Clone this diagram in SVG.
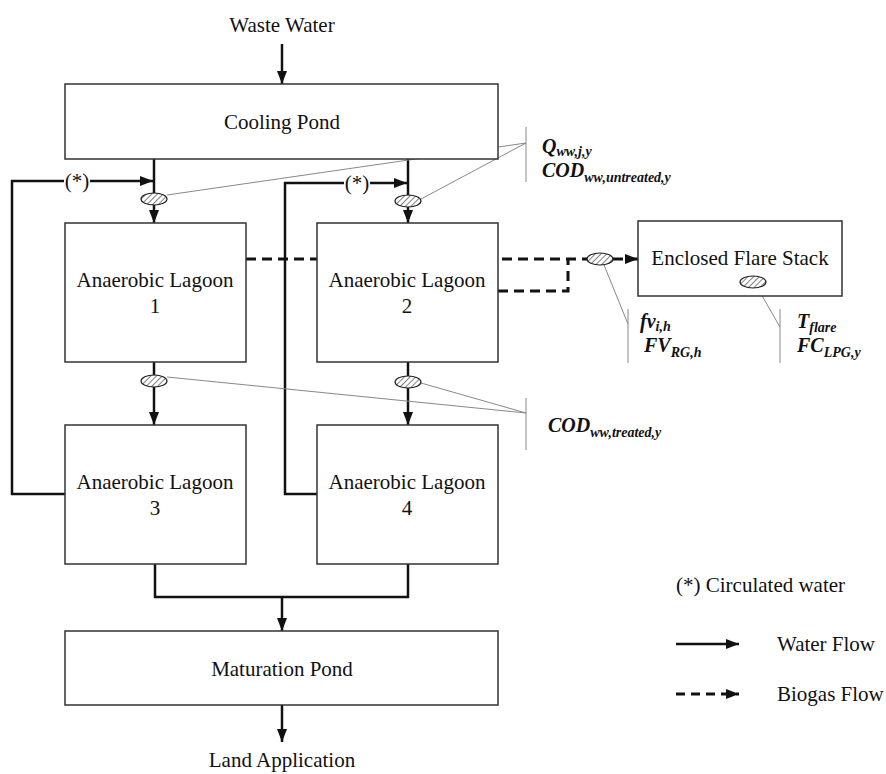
<svg xmlns="http://www.w3.org/2000/svg" width="886" height="774" viewBox="0 0 886 774" font-family="'Liberation Serif', 'Times New Roman', serif">
<defs>
<style>
text{font-family:'Liberation Serif','Times New Roman',serif}
.box{fill:#fff;stroke:#333;stroke-width:1.5}
.lbl{font-size:21px;fill:#111;text-anchor:middle}
.lft{text-anchor:start}
.var{font-size:20px;font-weight:bold;font-style:italic;fill:#111}
.sub{font-size:14px}
.flow{fill:none;stroke:#111;stroke-width:2.5}
.gas{fill:none;stroke:#111;stroke-width:3;stroke-dasharray:10 6}
.lead{fill:none;stroke:#888;stroke-width:1}
.meter{fill:url(#hatch);stroke:#222;stroke-width:1.2}
</style>
<pattern id="hatch" patternUnits="userSpaceOnUse" width="4" height="4" patternTransform="rotate(45)">
<rect width="4" height="4" fill="#fff"/>
<line x1="0" y1="0" x2="0" y2="4" stroke="#555" stroke-width="1.5"/>
</pattern>
<marker id="ah" markerUnits="userSpaceOnUse" viewBox="0 0 13 10" markerWidth="13" markerHeight="10" refX="13" refY="5" orient="auto">
<path d="M0,0 L13,5 L0,10 z" fill="#111"/>
</marker>
</defs>
<rect width="886" height="774" fill="#fff"/>

<g id="connectors">
<path class="flow" d="M282,44 V84" marker-end="url(#ah)"/>
<path class="flow" d="M154,159 V223" marker-end="url(#ah)"/>
<path class="flow" d="M408,159 V223" marker-end="url(#ah)"/>
<path class="flow" d="M65,494 H12 V181 H64"/>
<path class="flow" d="M90,181 H153" marker-end="url(#ah)"/>
<path class="flow" d="M317,494 H285 V183 H344"/>
<path class="flow" d="M370,183 H407" marker-end="url(#ah)"/>
<path class="flow" d="M154,362 V425" marker-end="url(#ah)"/>
<path class="flow" d="M408,362 V425" marker-end="url(#ah)"/>
<path class="flow" d="M155,564 V597 H408 V564"/>
<path class="flow" d="M282,597 V631" marker-end="url(#ah)"/>
<path class="flow" d="M282,705 V742" marker-end="url(#ah)"/>
<path class="gas" d="M246,259 H588"/>
<path class="gas" d="M498,291 H568 V259"/>
<path class="gas" d="M613,259 H638" marker-end="url(#ah)"/>
<path class="lead" d="M167,195 L526,143 M421,199 L526,143 M526,127 V182"/>
<path class="lead" d="M167,377 L526,413 M421,383 L526,413 M526,398 V450"/>
<path class="lead" d="M604,265 L628,324 M628,309 V363"/>
<path class="lead" d="M757,287 L780,327 M780,309 V363"/>
<text class="lbl" x="77" y="188">(*)</text>
<text class="lbl" x="357" y="190">(*)</text>
</g>

<g id="waste-water"><text class="lbl" x="282" y="32">Waste Water</text></g>
<g id="cooling-pond"><rect class="box" x="65" y="84" width="433" height="75"/><text class="lbl" x="282" y="129">Cooling Pond</text></g>
<g id="lagoon-1"><rect class="box" x="65" y="223" width="181" height="139"/><text class="lbl" x="155" y="287">Anaerobic Lagoon</text><text class="lbl" x="155" y="313">1</text></g>
<g id="lagoon-2"><rect class="box" x="317" y="223" width="181" height="139"/><text class="lbl" x="407" y="287">Anaerobic Lagoon</text><text class="lbl" x="407" y="313">2</text></g>
<g id="lagoon-3"><rect class="box" x="65" y="425" width="181" height="139"/><text class="lbl" x="155" y="489">Anaerobic Lagoon</text><text class="lbl" x="155" y="515">3</text></g>
<g id="lagoon-4"><rect class="box" x="317" y="425" width="181" height="139"/><text class="lbl" x="407" y="489">Anaerobic Lagoon</text><text class="lbl" x="407" y="515">4</text></g>
<g id="maturation-pond"><rect class="box" x="65" y="631" width="433" height="74"/><text class="lbl" x="282" y="676">Maturation Pond</text></g>
<g id="land-application"><text class="lbl" x="282" y="767">Land Application</text></g>
<g id="flare-stack"><rect class="box" x="638" y="221" width="204" height="75"/><text class="lbl" x="740" y="265">Enclosed Flare Stack</text></g>

<g id="meters">
<ellipse class="meter" cx="154" cy="199" rx="13" ry="6"/>
<ellipse class="meter" cx="408" cy="201" rx="13" ry="6"/>
<ellipse class="meter" cx="154" cy="381" rx="13" ry="6"/>
<ellipse class="meter" cx="408" cy="382" rx="13" ry="6"/>
<ellipse class="meter" cx="600" cy="259" rx="13" ry="6"/>
<ellipse class="meter" cx="753" cy="282" rx="13" ry="6"/>
</g>

<g id="parameters">
<text class="var" x="542" y="153">Q<tspan class="sub" dy="3">ww,j,y</tspan></text>
<text class="var" x="542" y="177">COD<tspan class="sub" dy="5">ww,untreated,y</tspan></text>
<text class="var" x="548" y="432">COD<tspan class="sub" dy="5">ww,treated,y</tspan></text>
<text class="var" x="640" y="328">fv<tspan class="sub" dy="3">i,h</tspan></text>
<text class="var" x="644" y="352">FV<tspan class="sub" dy="5">RG,h</tspan></text>
<text class="var" x="797" y="328">T<tspan class="sub" dy="4">flare</tspan></text>
<text class="var" x="797" y="352">FC<tspan class="sub" dy="5">LPG,y</tspan></text>
</g>

<g id="legend">
<text class="lbl lft" x="676" y="592">(*) Circulated water</text>
<path class="flow" d="M676,644 H739" marker-end="url(#ah)"/>
<text class="lbl lft" x="777" y="651">Water Flow</text>
<path class="gas" d="M676,694 H739" style="stroke-dasharray:9 6" marker-end="url(#ah)"/>
<text class="lbl lft" x="777" y="701">Biogas Flow</text>
</g>
</svg>
